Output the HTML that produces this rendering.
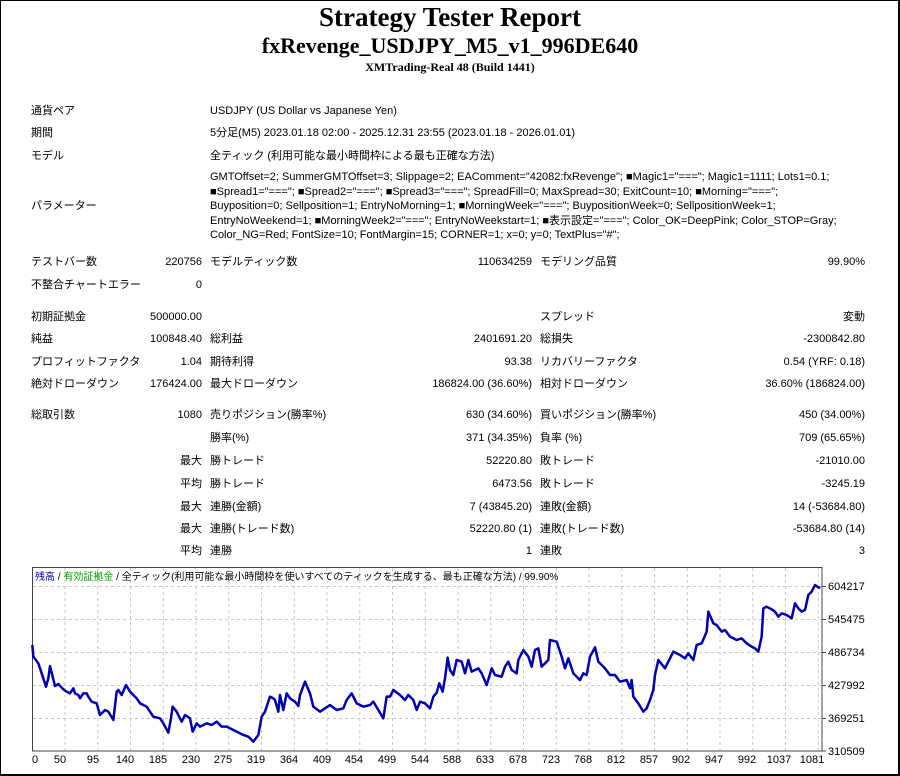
<!DOCTYPE html>
<html><head><meta charset="utf-8"><style>
body{margin:0;width:900px;height:776px;position:relative;background:#fff;overflow:hidden;font-family:"Liberation Sans","Noto Sans CJK JP",sans-serif;font-size:11px;color:#000}
#frame{position:absolute;left:0;top:0;width:897px;height:773px;border:1px solid #000;border-right:2px solid #000;border-bottom:2px solid #000}
.t{position:absolute;white-space:nowrap;line-height:14px}
.r{text-align:right}
h1,h2,h3{position:absolute;left:0;width:900px;text-align:center;margin:0;font-family:"Liberation Serif","Noto Serif CJK SC",serif;font-weight:bold;white-space:nowrap}
h1{top:2px;font-size:27px;line-height:31px}
h2{top:34px;font-size:22px;line-height:24px}
h3{top:60px;font-size:12px;line-height:14px}
</style></head><body>
<div id="frame"></div>
<h1>Strategy Tester Report</h1>
<h2>fxRevenge_USDJPY_M5_v1_996DE640</h2>
<h3>XMTrading-Real 48 (Build 1441)</h3>

<div class="t" style="left:31px;top:104px">通貨ペア</div>
<div class="t" style="left:210px;top:104px">USDJPY (US Dollar vs Japanese Yen)</div>
<div class="t" style="left:31px;top:126px">期間</div>
<div class="t" style="left:210px;top:126px">5分足(M5) 2023.01.18 02:00 - 2025.12.31 23:55 (2023.01.18 - 2026.01.01)</div>
<div class="t" style="left:31px;top:149px">モデル</div>
<div class="t" style="left:210px;top:149px">全ティック (利用可能な最小時間枠による最も正確な方法)</div>
<div class="t" style="left:31px;top:199px">パラメーター</div>
<div class="t" style="left:210px;top:170px">GMTOffset=2; SummerGMTOffset=3; Slippage=2; EAComment="42082:fxRevenge"; ■Magic1="==="; Magic1=1111; Lots1=0.1;</div>
<div class="t" style="left:210px;top:184.5px">■Spread1="==="; ■Spread2="==="; ■Spread3="==="; SpreadFill=0; MaxSpread=30; ExitCount=10; ■Morning="===";</div>
<div class="t" style="left:210px;top:199px">Buyposition=0; Sellposition=1; EntryNoMorning=1; ■MorningWeek="==="; BuypositionWeek=0; SellpositionWeek=1;</div>
<div class="t" style="left:210px;top:213.5px">EntryNoWeekend=1; ■MorningWeek2="==="; EntryNoWeekstart=1; ■表示設定="==="; Color_OK=DeepPink; Color_STOP=Gray;</div>
<div class="t" style="left:210px;top:228px">Color_NG=Red; FontSize=10; FontMargin=15; CORNER=1; x=0; y=0; TextPlus="#";</div>

<div class="t" style="left:31px;top:255px">テストバー数</div><div class="t r" style="right:698px;top:255px">220756</div>
<div class="t" style="left:210px;top:255px">モデルティック数</div><div class="t r" style="right:368px;top:255px">110634259</div>
<div class="t" style="left:540px;top:255px">モデリング品質</div><div class="t r" style="right:35px;top:255px">99.90%</div>
<div class="t" style="left:31px;top:278px">不整合チャートエラー</div><div class="t r" style="right:698px;top:278px">0</div>

<div class="t" style="left:31px;top:310px">初期証拠金</div><div class="t r" style="right:698px;top:310px">500000.00</div>
<div class="t" style="left:540px;top:310px">スプレッド</div><div class="t r" style="right:35px;top:310px">変動</div>
<div class="t" style="left:31px;top:332px">純益</div><div class="t r" style="right:698px;top:332px">100848.40</div>
<div class="t" style="left:210px;top:332px">総利益</div><div class="t r" style="right:368px;top:332px">2401691.20</div>
<div class="t" style="left:540px;top:332px">総損失</div><div class="t r" style="right:35px;top:332px">-2300842.80</div>
<div class="t" style="left:31px;top:355px">プロフィットファクタ</div><div class="t r" style="right:698px;top:355px">1.04</div>
<div class="t" style="left:210px;top:355px">期待利得</div><div class="t r" style="right:368px;top:355px">93.38</div>
<div class="t" style="left:540px;top:355px">リカバリーファクタ</div><div class="t r" style="right:35px;top:355px">0.54 (YRF: 0.18)</div>
<div class="t" style="left:31px;top:377px">絶対ドローダウン</div><div class="t r" style="right:698px;top:377px">176424.00</div>
<div class="t" style="left:210px;top:377px">最大ドローダウン</div><div class="t r" style="right:368px;top:377px">186824.00 (36.60%)</div>
<div class="t" style="left:540px;top:377px">相対ドローダウン</div><div class="t r" style="right:35px;top:377px">36.60% (186824.00)</div>

<div class="t" style="left:31px;top:408px">総取引数</div><div class="t r" style="right:698px;top:408px">1080</div>
<div class="t" style="left:210px;top:408px">売りポジション(勝率%)</div><div class="t r" style="right:368px;top:408px">630 (34.60%)</div>
<div class="t" style="left:540px;top:408px">買いポジション(勝率%)</div><div class="t r" style="right:35px;top:408px">450 (34.00%)</div>
<div class="t" style="left:210px;top:431px">勝率(%)</div><div class="t r" style="right:368px;top:431px">371 (34.35%)</div>
<div class="t" style="left:540px;top:431px">負率 (%)</div><div class="t r" style="right:35px;top:431px">709 (65.65%)</div>
<div class="t r" style="right:698px;top:454px">最大</div><div class="t" style="left:210px;top:454px">勝トレード</div><div class="t r" style="right:368px;top:454px">52220.80</div>
<div class="t" style="left:540px;top:454px">敗トレード</div><div class="t r" style="right:35px;top:454px">-21010.00</div>
<div class="t r" style="right:698px;top:477px">平均</div><div class="t" style="left:210px;top:477px">勝トレード</div><div class="t r" style="right:368px;top:477px">6473.56</div>
<div class="t" style="left:540px;top:477px">敗トレード</div><div class="t r" style="right:35px;top:477px">-3245.19</div>
<div class="t r" style="right:698px;top:500px">最大</div><div class="t" style="left:210px;top:500px">連勝(金額)</div><div class="t r" style="right:368px;top:500px">7 (43845.20)</div>
<div class="t" style="left:540px;top:500px">連敗(金額)</div><div class="t r" style="right:35px;top:500px">14 (-53684.80)</div>
<div class="t r" style="right:698px;top:522px">最大</div><div class="t" style="left:210px;top:522px">連勝(トレード数)</div><div class="t r" style="right:368px;top:522px">52220.80 (1)</div>
<div class="t" style="left:540px;top:522px">連敗(トレード数)</div><div class="t r" style="right:35px;top:522px">-53684.80 (14)</div>
<div class="t r" style="right:698px;top:544px">平均</div><div class="t" style="left:210px;top:544px">連勝</div><div class="t r" style="right:368px;top:544px">1</div>
<div class="t" style="left:540px;top:544px">連敗</div><div class="t r" style="right:35px;top:544px">3</div>

<svg style="position:absolute;left:0;top:0" width="900" height="776">
<rect x="32.5" y="567.5" width="789.5" height="183.5" fill="#fff" stroke="#444" stroke-width="1"/>
<g stroke="#c8c8c8" stroke-dasharray="3,3" stroke-width="1">
<line x1="33" x2="821" y1="586.5" y2="586.5"/><line x1="33" x2="821" y1="619.5" y2="619.5"/><line x1="33" x2="821" y1="652.5" y2="652.5"/><line x1="33" x2="821" y1="685.5" y2="685.5"/><line x1="33" x2="821" y1="718.5" y2="718.5"/>
<line x1="65" x2="65" y1="568" y2="750"/><line x1="97.8" x2="97.8" y1="568" y2="750"/><line x1="130.5" x2="130.5" y1="568" y2="750"/><line x1="163.3" x2="163.3" y1="568" y2="750"/><line x1="196" x2="196" y1="568" y2="750"/><line x1="228.8" x2="228.8" y1="568" y2="750"/><line x1="261.5" x2="261.5" y1="568" y2="750"/><line x1="294.3" x2="294.3" y1="568" y2="750"/><line x1="327" x2="327" y1="568" y2="750"/><line x1="359.8" x2="359.8" y1="568" y2="750"/><line x1="392.5" x2="392.5" y1="568" y2="750"/><line x1="425.3" x2="425.3" y1="568" y2="750"/><line x1="458" x2="458" y1="568" y2="750"/><line x1="490.8" x2="490.8" y1="568" y2="750"/><line x1="523.5" x2="523.5" y1="568" y2="750"/><line x1="556.3" x2="556.3" y1="568" y2="750"/><line x1="589" x2="589" y1="568" y2="750"/><line x1="621.8" x2="621.8" y1="568" y2="750"/><line x1="654.5" x2="654.5" y1="568" y2="750"/><line x1="687.3" x2="687.3" y1="568" y2="750"/><line x1="720" x2="720" y1="568" y2="750"/><line x1="752.8" x2="752.8" y1="568" y2="750"/><line x1="785.5" x2="785.5" y1="568" y2="750"/><line x1="818.3" x2="818.3" y1="568" y2="750"/>
</g>
<g stroke="#444"><line x1="822" x2="826" y1="586.5" y2="586.5"/><line x1="822" x2="826" y1="619.5" y2="619.5"/><line x1="822" x2="826" y1="652.5" y2="652.5"/><line x1="822" x2="826" y1="685.5" y2="685.5"/><line x1="822" x2="826" y1="718.5" y2="718.5"/><line x1="822" x2="826" y1="751" y2="751"/></g>
<g transform="translate(0,560) scale(0.33333)">
<polyline fill="none" stroke="#0000b4" stroke-width="2.5" vector-effect="non-scaling-stroke" stroke-linejoin="round" points="97,255 100,290 115,310 125,340 138,380 145,355 150,318 158,350 165,378 175,372 190,388 200,395 210,400 220,385 225,400 235,405 240,415 250,400 260,400 265,410 275,425 290,430 300,465 315,450 325,455 340,480 350,395 355,390 365,405 378,375 390,395 410,415 420,430 440,440 460,470 480,475 490,490 505,518 512,480 518,440 530,455 545,485 555,465 570,475 578,515 590,490 600,500 620,490 635,495 650,485 665,500 680,500 700,510 710,515 730,525 745,530 760,545 775,525 785,470 795,455 810,410 820,415 825,420 835,455 840,405 850,450 860,400 870,415 885,425 895,438 900,405 915,365 930,400 940,440 960,455 975,445 990,435 1010,450 1030,445 1040,420 1055,400 1070,430 1090,440 1110,435 1120,425 1135,450 1150,475 1160,410 1170,410 1180,390 1200,405 1215,420 1225,405 1240,420 1250,450 1260,425 1275,430 1290,445 1300,410 1310,398 1318,370 1328,395 1335,355 1343,293 1350,330 1360,345 1370,300 1385,305 1395,340 1405,300 1415,335 1435,325 1445,340 1460,375 1475,325 1485,345 1505,350 1515,320 1525,305 1535,330 1550,340 1555,300 1570,270 1585,290 1595,320 1605,270 1615,265 1625,320 1635,310 1645,300 1650,240 1670,245 1685,290 1695,325 1705,295 1720,340 1740,360 1750,340 1760,345 1770,290 1785,262 1795,305 1815,325 1830,345 1845,345 1860,365 1880,360 1890,385 1895,360 1900,410 1915,430 1930,455 1940,445 1950,420 1960,390 1965,345 1975,300 1995,325 2010,295 2020,275 2040,285 2055,295 2065,280 2080,300 2090,255 2105,250 2120,215 2125,155 2140,190 2150,195 2165,215 2175,210 2190,230 2210,240 2225,235 2240,250 2255,260 2265,265 2275,275 2285,230 2290,145 2300,140 2315,148 2325,155 2335,170 2345,160 2360,165 2375,175 2385,130 2395,145 2405,155 2415,150 2425,105 2435,95 2445,75 2460,85"/>
</g>
<text x="35" y="580" font-size="10" font-family="Liberation Sans,Noto Sans CJK JP,sans-serif"><tspan fill="#0000b4">残高</tspan> / <tspan fill="#00a000">有効証拠金</tspan> / 全ティック(利用可能な最小時間枠を使いすべてのティックを生成する、最も正確な方法) / 99.90%</text>
<g font-size="11" font-family="Liberation Sans,sans-serif" text-anchor="start">
<text x="828" y="590">604217</text><text x="828" y="623">545475</text><text x="828" y="656">486734</text><text x="828" y="689">427992</text><text x="828" y="722">369251</text><text x="828" y="755">310509</text>
</g>
<g font-size="11" font-family="Liberation Sans,sans-serif" text-anchor="middle">
<text x="35" y="763">0</text><text x="60" y="763">50</text><text x="93" y="763">95</text><text x="125" y="763">140</text><text x="158" y="763">185</text><text x="191" y="763">230</text><text x="223" y="763">275</text><text x="256" y="763">319</text><text x="289" y="763">364</text><text x="322" y="763">409</text><text x="354" y="763">454</text><text x="387" y="763">499</text><text x="420" y="763">544</text><text x="452" y="763">588</text><text x="485" y="763">633</text><text x="518" y="763">678</text><text x="551" y="763">723</text><text x="583" y="763">768</text><text x="616" y="763">812</text><text x="649" y="763">857</text><text x="681" y="763">902</text><text x="714" y="763">947</text><text x="747" y="763">992</text><text x="779" y="763">1037</text><text x="812" y="763">1081</text>
</g>
</svg>
</body></html>
